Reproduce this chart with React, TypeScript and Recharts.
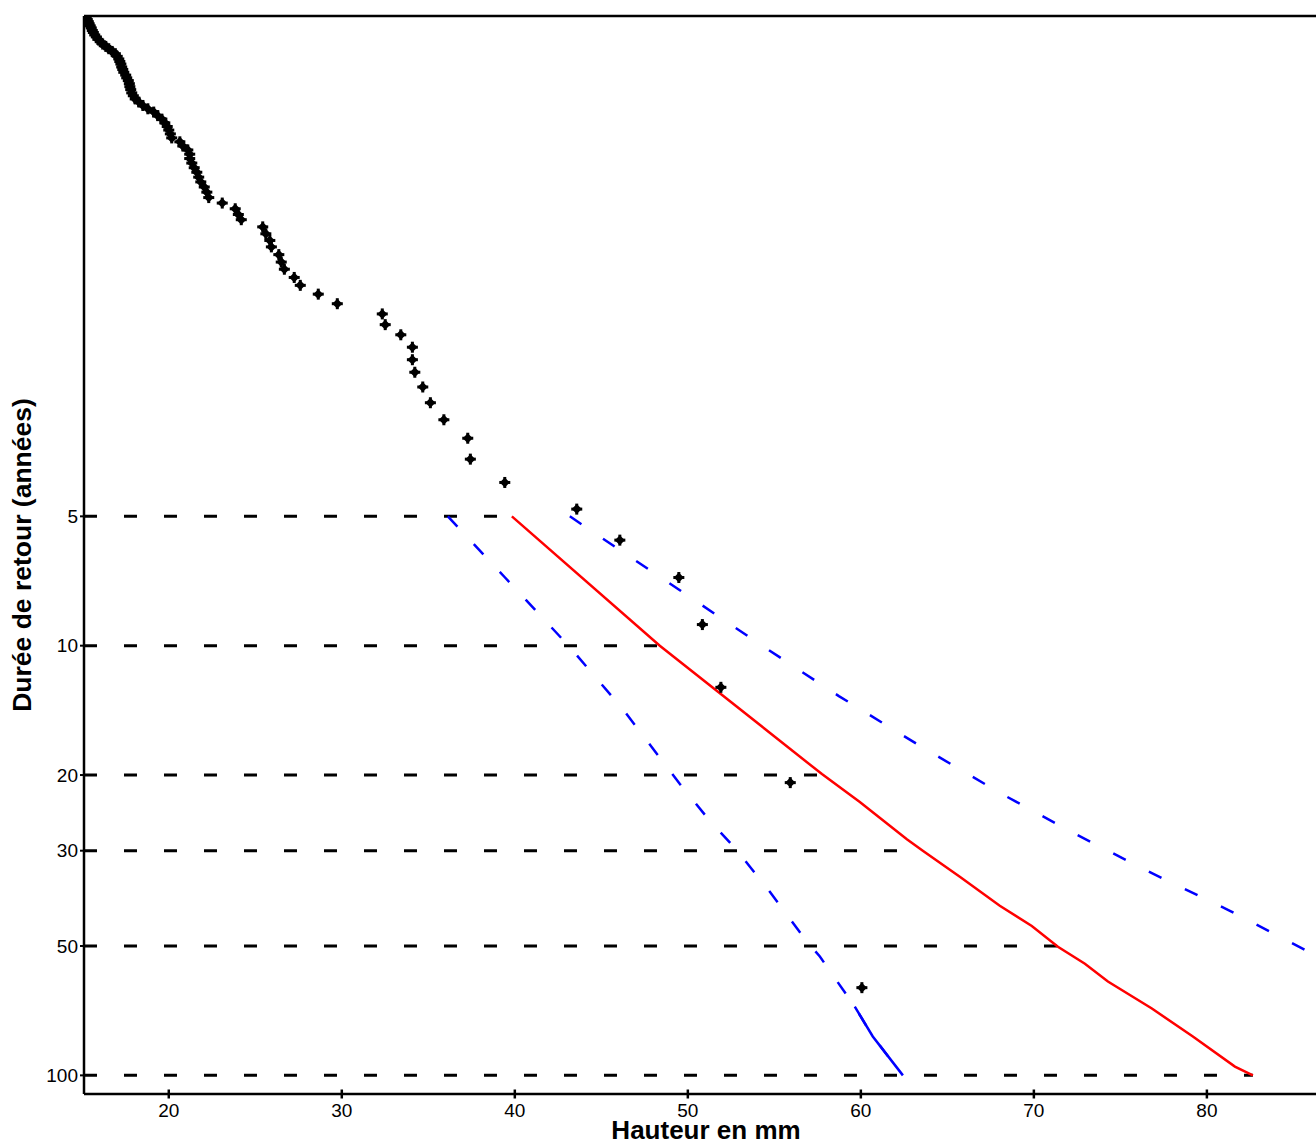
import { ComposedChart, Line, Scatter, XAxis, YAxis, ReferenceLine } from 'recharts';

// observed heights (mm), ranked from largest to smallest
const pointHeights = [
  60.06, 55.92, 51.91, 50.84, 49.48, 46.07, 43.58, 39.42, 37.43, 37.28,
  35.9, 35.12, 34.68, 34.22, 34.08, 34.08, 33.41, 32.51, 32.34, 29.74,
  28.64, 27.6, 27.25, 26.68, 26.5, 26.36, 25.93, 25.84, 25.61, 25.43,
  24.19, 24.02, 23.84, 23.09, 22.31, 22.2, 22.05, 21.85, 21.73, 21.62,
  21.47, 21.33, 21.21, 21.21, 21.1, 20.81, 20.64, 20.17, 20.09, 20.0,
  19.91, 19.77, 19.6, 19.36, 19.13, 18.79, 18.5, 18.27, 18.06, 17.95,
  17.86, 17.8, 17.75, 17.72, 17.66, 17.57, 17.51, 17.4, 17.34, 17.28,
  17.23, 17.17, 17.11, 17.02, 16.91, 16.73, 16.53, 16.36, 16.18, 16.04,
  15.9, 15.81, 15.72, 15.64, 15.58, 15.52, 15.46, 15.4, 15.35, 15.29, 15.23,
];

// empirical return periods (years)
const pointPeriods = [
  62.5, 20.83, 12.5, 8.93, 6.94, 5.68, 4.81, 4.17, 3.68, 3.29,
  2.98, 2.72, 2.5, 2.31, 2.16, 2.02, 1.89, 1.79, 1.69, 1.6,
  1.52, 1.45, 1.39, 1.33, 1.28, 1.23, 1.18, 1.14, 1.1, 1.06,
  1.02, 0.992, 0.962, 0.933, 0.906, 0.88, 0.856, 0.833, 0.812, 0.791,
  0.772, 0.753, 0.735, 0.718, 0.702, 0.687, 0.672, 0.658, 0.644, 0.631,
  0.619, 0.607, 0.595, 0.584, 0.573, 0.563, 0.553, 0.543, 0.534, 0.525,
  0.517, 0.508, 0.5, 0.492, 0.484, 0.477, 0.47, 0.463, 0.456, 0.45,
  0.443, 0.437, 0.431, 0.425, 0.419, 0.414, 0.408, 0.403, 0.398, 0.393,
  0.388, 0.383, 0.379, 0.374, 0.37, 0.365, 0.361, 0.357, 0.353, 0.349, 0.345,
];

// fitted quantile curve
const fitHeights = [39.83, 48.38, 57.75, 59.94, 62.66, 63.58, 65.72, 68.03, 69.88, 71.39, 72.95, 74.28, 76.82, 79.19, 81.62, 82.66];
const fitPeriods = [5, 10, 19.9, 23.1, 28.2, 30, 34.5, 40.3, 44.9, 50.2, 55.0, 60.5, 69.9, 81.2, 95.4, 100];

// confidence bounds
const lowHeights = [36.13, 39.42, 43.18, 46.24, 49.54, 51.27, 52.77, 54.74, 56.76, 57.63, 59.65, 60.69, 62.43];
const lowPeriods = [5, 6.93, 10.08, 14.05, 20.98, 25.57, 29.7, 37.4, 48.1, 52.9, 69.2, 81.2, 100];
const highHeights = [43.18, 46.36, 49.54, 54.16, 58.73, 63.41, 68.03, 72.37, 76.53, 81.33, 86.3, 91.16];
const highPeriods = [5, 6.1, 7.43, 9.92, 13.1, 17.1, 22.0, 27.4, 33.4, 41.4, 52.6, 63.9];

const xTicks = [20, 30, 40, 50, 60, 70, 80];
const yTicks = [5, 10, 20, 30, 50, 100];
// where each dashed return-period line meets the fitted curve
const refEnds = [39.83, 48.38, 57.75, 63.58, 71.39, 82.66];

const X_MIN = 15.1;
const X_MAX = 87;
const Y_MIN = 0.3424;
const Y_MAX = 110.5;

const FONT = '"Liberation Sans", Arial, sans-serif';

const points = pointHeights.map((x, i) => ({ x, t: pointPeriods[i] }));
const fit = fitHeights.map((x, i) => ({ x, t: fitPeriods[i] }));
const low = lowHeights.map((x, i) => ({ x, t: lowPeriods[i] }));
const lowTail = low.slice(-3);
const high = highHeights.map((x, i) => ({ x, t: highPeriods[i] }));
const refLines = yTicks.map((t, i) => [
  { x: X_MIN, t },
  { x: refEnds[i], t },
]);

const Marker = (props: any) => {
  const { cx, cy } = props;
  if (cx == null || cy == null) return null;
  return (
    <g fill="#000">
      <polygon points={`${cx},${cy - 5} ${cx + 5},${cy} ${cx},${cy + 5} ${cx - 5},${cy}`} />
      <rect x={cx - 5.5} y={cy - 1.5} width={11} height={3} />
      <rect x={cx - 1.5} y={cy - 5.5} width={3} height={11} />
    </g>
  );
};

const XTick = (props: any) => {
  const { x, y, payload } = props;
  return (
    <g>
      <line x1={x} x2={x} y1={y - 4.5} y2={y + 4.5} stroke="#000" strokeWidth={2.5} />
      <text x={x} y={y + 23} textAnchor="middle" fontSize={19} fontFamily={FONT} fill="#000">
        {payload.value}
      </text>
    </g>
  );
};

const XTitle = () => (
  <text x={706} y={1139} textAnchor="middle" fontSize={26} fontWeight="bold" fontFamily={FONT} fill="#000">
    Hauteur en mm
  </text>
);

const YTitle = () => (
  <text
    x={22}
    y={555}
    transform="rotate(-90 22 555)"
    textAnchor="middle"
    dominantBaseline="central"
    fontSize={26.5}
    fontWeight="bold"
    fontFamily={FONT}
    fill="#000"
  >
    Durée de retour (années)
  </text>
);

export default function App() {
  return (
    <div style={{ position: 'absolute', left: 0, top: 0, width: 1316, height: 1142, overflow: 'hidden', background: '#fff' }}>
      <ComposedChart width={1330} height={1142} margin={{ top: 16, right: 2, bottom: 0, left: 0 }}>
        <XAxis
          type="number"
          dataKey="x"
          domain={[X_MIN, X_MAX]}
          allowDataOverflow
          ticks={xTicks}
          interval={0}
          height={48}
          tickSize={0}
          tickMargin={0}
          tickLine={false}
          tick={<XTick />}
          axisLine={{ stroke: '#000', strokeWidth: 2.5 }}
          label={<XTitle />}
        />
        <YAxis
          type="number"
          dataKey="t"
          scale="log"
          domain={[Y_MIN, Y_MAX]}
          allowDataOverflow
          reversed
          ticks={yTicks}
          interval={0}
          width={84}
          tickSize={4}
          tickMargin={2}
          tick={{ fontSize: 19, fontFamily: FONT, fill: '#000' }}
          tickLine={{ stroke: '#000', strokeWidth: 2 }}
          axisLine={{ stroke: '#000', strokeWidth: 2.5 }}
          label={<YTitle />}
        />
        <ReferenceLine y={Y_MIN} stroke="#000" strokeWidth={2.5} ifOverflow="visible" />
        {refLines.map((d, i) => (
          <Line
            key={i}
            data={d}
            dataKey="t"
            type="linear"
            stroke="#000"
            strokeWidth={3}
            strokeDasharray="13 27"
            dot={false}
            activeDot={false}
            isAnimationActive={false}
          />
        ))}
        <Line data={low} dataKey="t" type="linear" stroke="#0000ff" strokeWidth={2.5} strokeDasharray="14 24" dot={false} activeDot={false} isAnimationActive={false} />
        <Line data={lowTail} dataKey="t" type="linear" stroke="#0000ff" strokeWidth={2.5} dot={false} activeDot={false} isAnimationActive={false} />
        <Line data={high} dataKey="t" type="linear" stroke="#0000ff" strokeWidth={2.5} strokeDasharray="14 26" dot={false} activeDot={false} isAnimationActive={false} />
        <Line data={fit} dataKey="t" type="linear" stroke="#ff0000" strokeWidth={2.5} dot={false} activeDot={false} isAnimationActive={false} />
        <Scatter data={points} dataKey="t" shape={<Marker />} isAnimationActive={false} />
      </ComposedChart>
    </div>
  );
}
